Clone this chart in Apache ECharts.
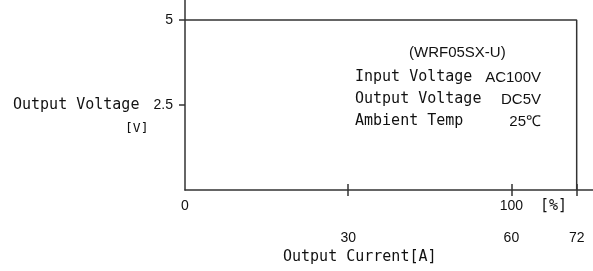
<!DOCTYPE html>
<html>
<head>
<meta charset="utf-8">
<script src="https://cdn.jsdelivr.net/npm/echarts@6/dist/echarts.min.js"></script>
<style>
  html, body { margin: 0; padding: 0; background: #fff; }
  #chart { width: 593px; height: 271px; }
</style>
</head>
<body>
<div id="chart"></div>
<script>
  // output characteristic: voltage vs current
  var currentA = [0, 72, 72];
  var voltageV = [5, 5, 0];
  var yTicks = [2.5, 5];
  var xTicksTop = [0, 60];          // labelled in percent
  var xTopLabels = {0: '0', 60: '100'};
  var xTicksBottom = [30, 60, 72];  // labelled in amps
  var infoLines = [
    ['Input Voltage', 'AC100V'],
    ['Output Voltage', 'DC5V'],
    ['Ambient Temp', '25\u2103']
  ];
  var modelName = '(WRF05SX-U)';

  var lineColor = '#333';
  var txt = '#111';
  var mono = '"DejaVu Sans Mono", "Liberation Mono", monospace';
  var sans = '"Liberation Sans", Arial, sans-serif';

  var chart = echarts.init(document.getElementById('chart'));

  var data = currentA.map(function (x, i) { return [x, voltageV[i]]; });

  var info = [];
  infoLines.forEach(function (row, i) {
    info.push({type: 'text', left: 355, top: 70 + i * 22,
      style: {text: row[0], font: '15px ' + mono, fill: txt}});
    info.push({type: 'text', right: 52, top: 70 + i * 22,
      style: {text: row[1], font: '15px ' + sans, fill: txt}});
  });

  var option = {
    animation: false,
    grid: {left: 185, right: 0, top: 0, bottom: 81},
    xAxis: [
      {
        type: 'value', min: 0, max: 75,
        splitLine: {show: false},
        axisLine: {lineStyle: {color: lineColor, width: 1.5}},
        axisTick: {show: true, inside: true, length: 6, customValues: xTicksBottom,
          lineStyle: {color: lineColor, width: 1.5}},
        axisLabel: {customValues: xTicksTop, margin: 9, color: txt,
          fontFamily: sans, fontSize: 14,
          formatter: function (v) { return xTopLabels[v]; }}
      },
      {
        type: 'value', min: 0, max: 75, position: 'bottom',
        splitLine: {show: false},
        axisLine: {show: false},
        axisTick: {show: true, inside: false, length: 6, customValues: xTicksBottom,
          lineStyle: {color: lineColor, width: 1.5}},
        axisLabel: {customValues: xTicksBottom, margin: 41, color: txt,
          fontFamily: sans, fontSize: 14}
      }
    ],
    yAxis: {
      type: 'value', min: 0, max: 5.59,
      splitLine: {show: false},
      axisLine: {show: true, lineStyle: {color: lineColor, width: 1.5}},
      axisTick: {show: true, length: 6, customValues: yTicks,
        lineStyle: {color: lineColor, width: 1.5}},
      axisLabel: {customValues: yTicks, margin: 12, color: txt,
        fontFamily: sans, fontSize: 14}
    },
    series: [{
      type: 'line',
      data: data,
      symbol: 'none',
      lineStyle: {color: lineColor, width: 1.5}
    }],
    graphic: [
      {type: 'text', left: 540, top: 199,
        style: {text: '[%]', font: '15px ' + mono, fill: txt}},
      {type: 'text', left: 13, top: 98,
        style: {text: 'Output Voltage', font: '15px ' + mono, fill: txt}},
      {type: 'text', left: 125, top: 122,
        style: {text: '[V]', font: '13px ' + mono, fill: txt}},
      {type: 'text', left: 283, top: 250,
        style: {text: 'Output Current[A]', font: '15px ' + mono, fill: txt}},
      {type: 'text', left: 409, top: 45,
        style: {text: modelName, font: '15px ' + sans, fill: txt}}
    ].concat(info)
  };

  chart.setOption(option);
</script>
</body>
</html>
